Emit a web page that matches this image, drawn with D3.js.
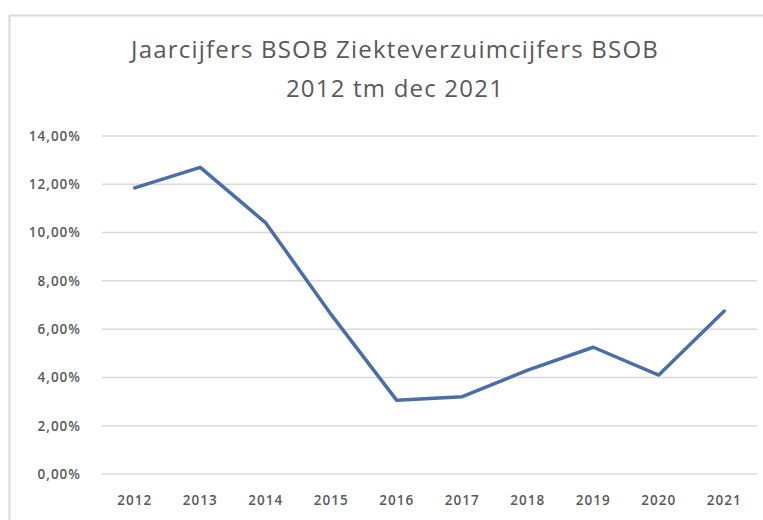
<!DOCTYPE html>
<html>
<head>
<meta charset="utf-8">
<script src="https://cdn.jsdelivr.net/npm/d3@7"></script>
<style>
  body { margin: 0; background: #fff; }
  svg { display: block; }
</style>
</head>
<body>
<div id="chart"></div>
<script>
// Ziekteverzuim per jaar (in %)
const years = ['2012', '2013', '2014', '2015', '2016', '2017', '2018', '2019', '2020', '2021'];
const verzuim = [11.85, 12.7, 10.4, 6.6, 3.05, 3.2, 4.3, 5.25, 4.1, 6.75];
const yTicks = [0, 2, 4, 6, 8, 10, 12, 14];
const titleLines = ['Jaarcijfers BSOB Ziekteverzuimcijfers BSOB', '2012 tm dec 2021'];

const width = 763;
const height = 520;
const margin = { top: 136, right: 6, bottom: 46, left: 102 };
const textColor = '#595959';
const font = 'Open Sans, sans-serif';

const svg = d3
  .select('#chart')
  .append('svg')
  .attr('width', width)
  .attr('height', height);

// chart frame (only top and left edges are visible in the crop)
svg
  .append('line')
  .attr('x1', 9)
  .attr('x2', width)
  .attr('y1', 15.5)
  .attr('y2', 15.5)
  .style('stroke', '#d9d9d9')
  .style('stroke-width', 2);
svg
  .append('line')
  .attr('x1', 9.5)
  .attr('x2', 9.5)
  .attr('y1', 15)
  .attr('y2', height)
  .style('stroke', '#d9d9d9')
  .style('stroke-width', 2);

const x = d3
  .scaleBand()
  .domain(years)
  .range([margin.left, width - margin.right]);

const y = d3
  .scaleLinear()
  .domain([0, 14])
  .range([height - margin.bottom, margin.top]);

// title
svg
  .append('g')
  .selectAll('text')
  .data(titleLines)
  .enter()
  .append('text')
  .attr('x', 395)
  .attr('y', (d, i) => 58 + i * 39)
  .attr('text-anchor', 'middle')
  .attr('font-family', font)
  .attr('font-size', '24px')
  .attr('letter-spacing', '1.2px')
  .style('fill', textColor)
  .text((d) => d);

// gridlines
svg
  .append('g')
  .selectAll('line')
  .data(yTicks)
  .enter()
  .append('line')
  .attr('x1', margin.left)
  .attr('x2', width - margin.right)
  .attr('y1', (d) => y(d))
  .attr('y2', (d) => y(d))
  .style('stroke', '#d9d9d9')
  .style('stroke-width', 1.5);

// y axis labels
const fmt = (d) => d.toFixed(2).replace('.', ',') + '%';
const yAxis = svg
  .append('g')
  .attr('transform', `translate(${margin.left - 18},0)`)
  .call(d3.axisLeft(y).tickValues(yTicks).tickFormat(fmt).tickSize(0));
yAxis.select('.domain').remove();
yAxis
  .selectAll('text')
  .attr('font-family', font)
  .attr('font-size', '13.5px')
  .attr('font-weight', 600)
  .attr('letter-spacing', '1px')
  .style('fill', textColor);

// x axis labels
const xAxis = svg
  .append('g')
  .attr('transform', `translate(0,${height - margin.bottom + 18})`)
  .call(d3.axisBottom(x).tickSize(0));
xAxis.select('.domain').remove();
xAxis
  .selectAll('text')
  .attr('font-family', font)
  .attr('font-size', '13.5px')
  .attr('font-weight', 600)
  .attr('letter-spacing', '1px')
  .style('fill', textColor);

// the line
const line = d3
  .line()
  .x((d, i) => x(years[i]) + x.bandwidth() / 2)
  .y((d) => y(d));

svg
  .append('path')
  .datum(verzuim)
  .attr('d', line)
  .style('fill', 'none')
  .style('stroke', '#4a6ea8')
  .style('stroke-width', 3.5)
  .style('stroke-linejoin', 'round')
  .style('stroke-linecap', 'round');
</script>
</body>
</html>
